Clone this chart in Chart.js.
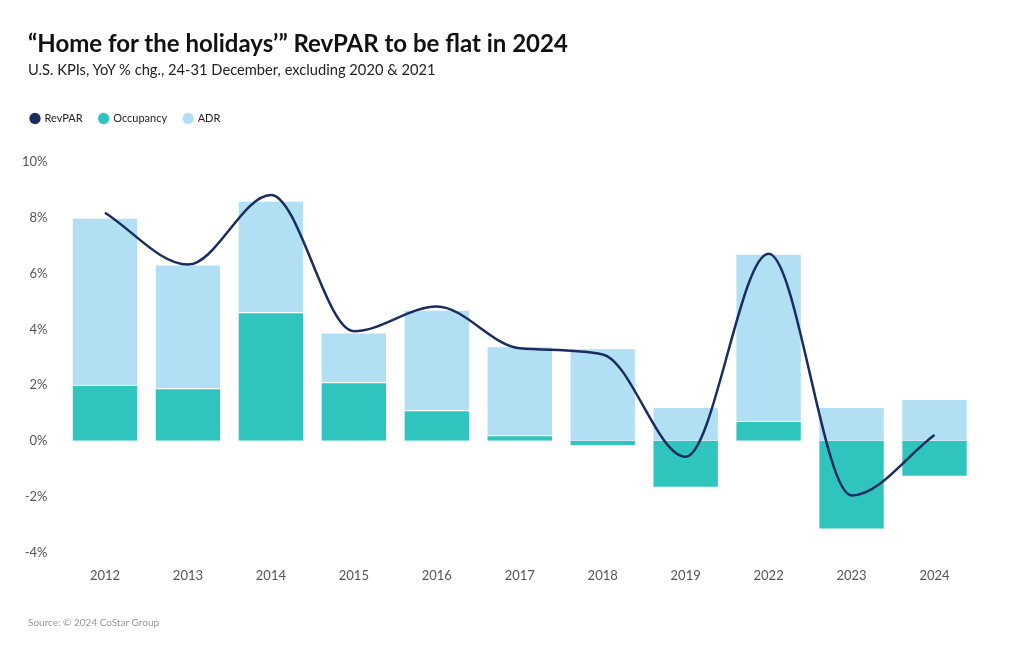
<!DOCTYPE html>
<html>
<head>
<meta charset="utf-8">
<script src="https://cdn.jsdelivr.net/npm/chart.js@4"></script>
<style>
  body { margin: 0; background: #fff; font-family: Lato, sans-serif; }
  #wrap { position: relative; width: 1020px; height: 650px; }
  #title { position: absolute; left: 28px; top: 28px; font-size: 24px; font-weight: bold; color: #111; }
  #subtitle { position: absolute; left: 28px; top: 60px; font-size: 14.7px; color: #222; }
  #source { position: absolute; left: 28px; top: 616px; font-size: 10px; color: #999; }
  canvas { position: absolute; left: 0; top: 0; }
</style>
</head>
<body>
<div id="wrap">
  <canvas id="myChart" width="1020" height="650"></canvas>
  <div id="title">“Home for the holidays’” RevPAR to be flat in 2024</div>
  <div id="subtitle">U.S. KPIs, YoY % chg., 24-31 December, excluding 2020 &amp; 2021</div>
  <div id="source">Source: © 2024 CoStar Group</div>
</div>
<script>
const ctx = document.getElementById("myChart");

var labels = ["2012", "2013", "2014", "2015", "2016", "2017", "2018", "2019", "2022", "2023", "2024"];
var revpar = [8.18, 6.32, 8.82, 3.93, 4.82, 3.32, 3.1, -0.57, 6.71, -1.96, 0.21];
var occupancy = [2.0, 1.89, 4.61, 2.1, 1.1, 0.2, -0.18, -1.68, 0.71, -3.18, -1.29];
var adr = [6.0, 4.43, 4.0, 1.79, 3.6, 3.19, 3.32, 1.21, 6.0, 1.21, 1.5];

var navy = "#1b2d5f";
var teal = "#2fc4be";
var light = "#b1dff4";

// push the plot down below the legend
const legendGap = {
  id: "legendGap",
  beforeInit(chart) {
    const origFit = chart.legend.fit;
    chart.legend.fit = function () {
      origFit.bind(chart.legend)();
      this.height += 28;
    };
  }
};

var config = {
  type: "bar",
  data: {
    labels: labels,
    datasets: [
      {
        type: "line",
        label: "RevPAR",
        data: revpar,
        borderColor: navy,
        backgroundColor: navy,
        borderWidth: 2.5,
        pointRadius: 0,
        cubicInterpolationMode: "monotone",
        stack: "line",
        order: 0
      },
      {
        label: "Occupancy",
        data: occupancy,
        backgroundColor: teal,
        borderColor: "#ffffff",
        borderWidth: 1,
        stack: "bars",
        order: 1
      },
      {
        label: "ADR",
        data: adr,
        backgroundColor: light,
        borderColor: "#ffffff",
        borderWidth: 1,
        stack: "bars",
        order: 1
      }
    ]
  },
  options: {
    responsive: false,
    animation: false,
    layout: { padding: { left: 14, right: 44, top: 96, bottom: 58 } },
    datasets: { bar: { barPercentage: 1, categoryPercentage: 0.8 } },
    scales: {
      x: {
        stacked: true,
        grid: { display: false },
        border: { display: false },
        ticks: { color: "#555", font: { family: "Lato", size: 13 }, padding: 8 }
      },
      y: {
        stacked: true,
        min: -4,
        max: 10,
        grid: { display: false },
        border: { display: false },
        ticks: {
          stepSize: 2,
          color: "#555",
          font: { family: "Lato", size: 13 },
          padding: 8,
          callback: (v) => v + "%"
        }
      }
    },
    plugins: {
      tooltip: { enabled: false },
      legend: {
        position: "top",
        align: "start",
        labels: {
          usePointStyle: true,
          pointStyle: "circle",
          boxWidth: 8,
          boxHeight: 8,
          padding: 17,
          color: "#222",
          font: { family: "Lato", size: 11 },
          generateLabels: (chart) => {
            let items = Chart.defaults.plugins.legend.labels.generateLabels(chart);
            items.forEach(it => { it.lineWidth = 0; });
            return items;
          }
        }
      }
    }
  },
  plugins: [legendGap]
};

var chart = new Chart(ctx, config);
</script>
</body>
</html>
